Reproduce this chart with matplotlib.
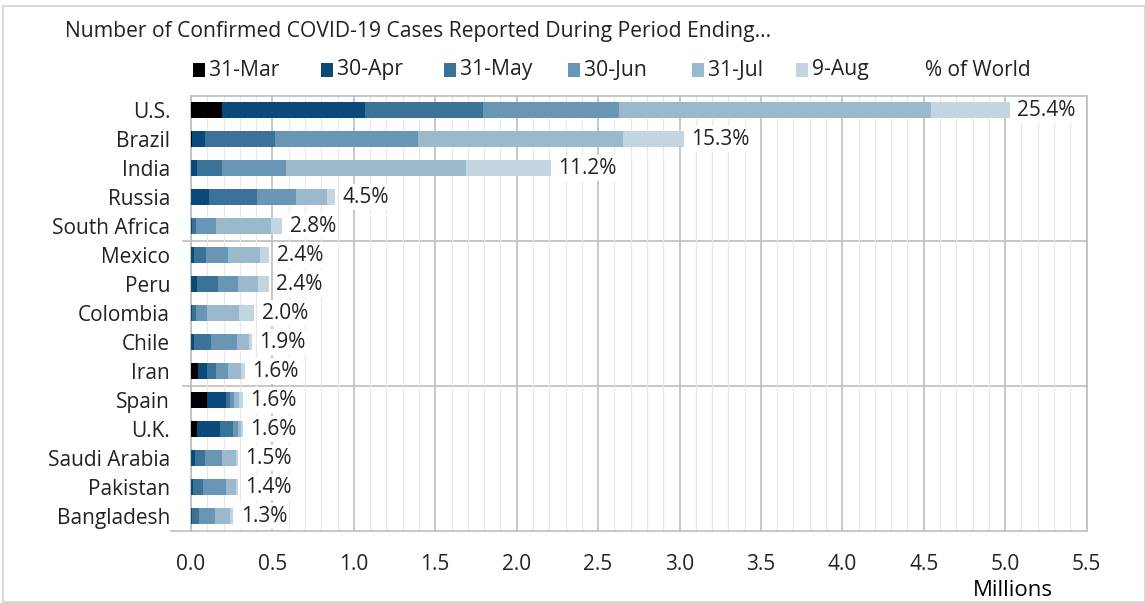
import matplotlib
matplotlib.use("Agg")
import matplotlib.pyplot as plt
import numpy as np
from matplotlib.patches import Rectangle
from matplotlib.ticker import MultipleLocator

plt.rcParams['font.family'] = ['Open Sans', 'DejaVu Sans']

countries = ["U.S.", "Brazil", "India", "Russia", "South Africa", "Mexico", "Peru",
             "Colombia", "Chile", "Iran", "Spain", "U.K.", "Saudi Arabia", "Pakistan",
             "Bangladesh"]
periods = ["31-Mar", "30-Apr", "31-May", "30-Jun", "31-Jul", "9-Aug"]

# cumulative confirmed cases (millions) at end of each period
mar31 = [0.192, 0.005, 0.002, 0.003, 0.001, 0.001, 0.001, 0.001, 0.003, 0.043, 0.098, 0.037, 0.002, 0.002, 0.0001]
apr30 = [1.070, 0.086, 0.035, 0.108, 0.005, 0.019, 0.037, 0.007, 0.017, 0.098, 0.214, 0.178, 0.024, 0.015, 0.008]
may31 = [1.795, 0.517, 0.190, 0.404, 0.031, 0.092, 0.165, 0.031, 0.124, 0.153, 0.239, 0.257, 0.086, 0.074, 0.049]
jun30 = [2.629, 1.397, 0.582, 0.643, 0.153, 0.229, 0.288, 0.098, 0.282, 0.229, 0.265, 0.288, 0.190, 0.214, 0.147]
jul31 = [4.547, 2.653, 1.691, 0.837, 0.490, 0.423, 0.409, 0.294, 0.355, 0.306, 0.294, 0.306, 0.276, 0.276, 0.239]
aug9 = [5.027, 3.027, 2.208, 0.886, 0.560, 0.482, 0.480, 0.390, 0.374, 0.331, 0.317, 0.319, 0.290, 0.288, 0.260]
pct_world = ["25.4%", "15.3%", "11.2%", "4.5%", "2.8%", "2.4%", "2.4%", "2.0%",
             "1.9%", "1.6%", "1.6%", "1.6%", "1.5%", "1.4%", "1.3%"]

colors = ["#000000", "#0A4A7A", "#3A7298", "#6896B4", "#9BB9CD", "#C3D5E0"]

cum = np.array([mar31, apr30, may31, jun30, jul31, aug9])
inc = np.diff(np.vstack([np.zeros(len(countries)), cum]), axis=0)

fig = plt.figure(figsize=(11.45, 6.03), dpi=100)
ax = fig.add_axes([0.1668, 0.1202, 0.949 - 0.1668, 0.8416 - 0.1202])

y = np.arange(len(countries))
left = np.zeros(len(countries))
for i in range(len(periods)):
    ax.barh(y, inc[i], left=left, height=0.55, color=colors[i], linewidth=0, zorder=3)
    left += inc[i]

for yi, tot, p in zip(y, cum[-1], pct_world):
    ax.text(tot + 0.045, yi, p, va='center', ha='left', fontsize=15, color='#222222',
            zorder=4, bbox=dict(facecolor='white', edgecolor='none', pad=1.5))

ax.set_ylim(len(countries) - 0.5, -0.5)
ax.set_xlim(0, 5.5)
ax.set_yticks(y)
ax.set_yticklabels(countries, fontsize=15, color='#222222')
ax.xaxis.set_minor_locator(MultipleLocator(0.1))
ax.set_xticks(np.arange(0, 5.51, 0.5))
ax.set_xticklabels([f"{v:.1f}" for v in np.arange(0, 5.51, 0.5)], fontsize=15, color='#222222')
ax.tick_params(axis='x', which='both', length=0, pad=17)
ax.tick_params(axis='y', length=0, pad=15)
ax.grid(axis='x', which='major', color='#BDBDBD', linewidth=1.2, zorder=0)
ax.grid(axis='x', which='minor', color='#E8E8E8', linewidth=0.9, zorder=0)
for s in ax.spines.values():
    s.set_color('#BDBDBD')
    s.set_linewidth(1.2)

# group separators
for yy in [4.5, 9.5]:
    ax.plot([-0.05, 5.5], [yy, yy], color='#BDBDBD', linewidth=1.2, clip_on=False, zorder=1)
ax.plot([-0.12, 0], [14.5, 14.5], color='#BDBDBD', linewidth=1.2, clip_on=False)

fig.text(65 / 1145, 1 - 32 / 603, "Number of Confirmed COVID-19 Cases Reported During Period Ending...",
         fontsize=15.2, va='center', ha='left', color='#222222')

# legend
sq_x = [193, 321, 444, 568, 692, 796]
ly = 1 - 70 / 603
for xp, c, lab in zip(sq_x, colors, periods):
    fig.add_artist(Rectangle((xp / 1145, ly - 7 / 603), 12 / 1145, 14 / 603,
                             transform=fig.transFigure, facecolor=c, edgecolor='none'))
    fig.text((xp + 16) / 1145, ly, lab, fontsize=15.2, va='center', ha='left', color='#222222')
fig.text(925 / 1145, ly, "% of World", fontsize=15, va='center', ha='left', color='#222222')

fig.text(1013 / 1145, 1 - 590 / 603, "Millions", fontsize=16, va='center', ha='center', color='black')

fig.add_artist(Rectangle((3 / 1145, 0.002), 1 - 3 / 1145, 1 - 6 / 603 - 0.002,
                         transform=fig.transFigure, facecolor='none', edgecolor='#D9D9D9', linewidth=1.5))

fig.savefig("out.png", dpi=100)
